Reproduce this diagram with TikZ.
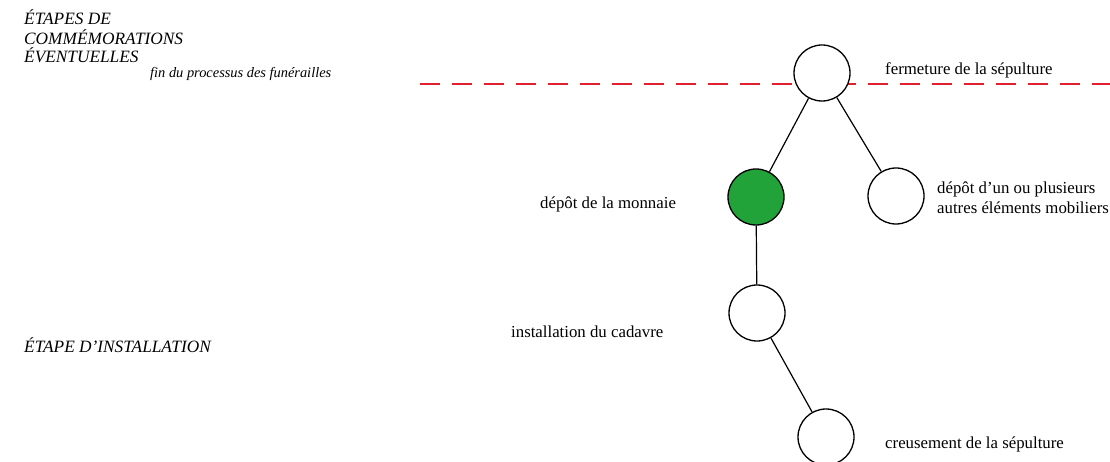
\documentclass[tikz,border=0pt]{standalone}
\usepackage{fontspec}
\setmainfont{Liberation Serif}
\definecolor{nodegreen}{HTML}{22A33A}
\definecolor{dashred}{HTML}{E0202F}
\begin{document}
\begin{tikzpicture}[x=1pt,y=-1pt,
  stage/.style={circle,draw=black,line width=1.3pt,minimum size=56pt,inner sep=0pt,outer sep=0.65pt,fill=white},
  lbl/.style={anchor=base west,inner sep=0pt,font=\fontsize{16.8}{20}\selectfont},
  capslbl/.style={anchor=base west,inner sep=0pt,font=\fontsize{17.3}{19}\selectfont\itshape},
  ilbl/.style={anchor=base west,inner sep=0pt,font=\fontsize{14.4}{19}\selectfont\itshape},
  edge/.style={line width=1.2pt}]
\useasboundingbox (0,0) rectangle (1110,462);
\coordinate (dl) at (420,84);
\coordinate (dr) at (1110,84);
\draw[dashred,line width=2pt,dash pattern=on 20pt off 12pt] (dl) -- (dr);
\node[stage] (top) at (822,73) {};
\node[stage,fill=nodegreen] (coin) at (756,197) {};
\node[stage] (obj) at (896,196) {};
\node[stage] (inst) at (757,313) {};
\node[stage] (dig) at (826,437) {};
\draw[edge] (top) -- (coin);
\draw[edge] (top) -- (obj);
\draw[edge] (coin) -- (inst);
\draw[edge] (inst) -- (dig);
\node[lbl] (t1) at (885,75) {fermeture de la sépulture};
\node[lbl] (t2) at (540,209) {dépôt de la monnaie};
\node[lbl] (t3a) at (937,194) {dépôt d’un ou plusieurs};
\node[lbl] (t3b) at (937,214) {autres éléments mobiliers};
\node[lbl] (t4) at (511,337) {installation du cadavre};
\node[lbl] (t5) at (885,448) {creusement de la sépulture};
\node[capslbl] (h1a) at (24,25) {ÉTAPES DE};
\node[capslbl] (h1b) at (24,45) {COMMÉMORATIONS};
\node[capslbl] (h1c) at (24,63) {ÉVENTUELLES};
\node[ilbl] (h2) at (150,78) {fin du processus des funérailles};
\node[capslbl] (h3) at (24,352) {ÉTAPE D’INSTALLATION};
\end{tikzpicture}
\end{document}
